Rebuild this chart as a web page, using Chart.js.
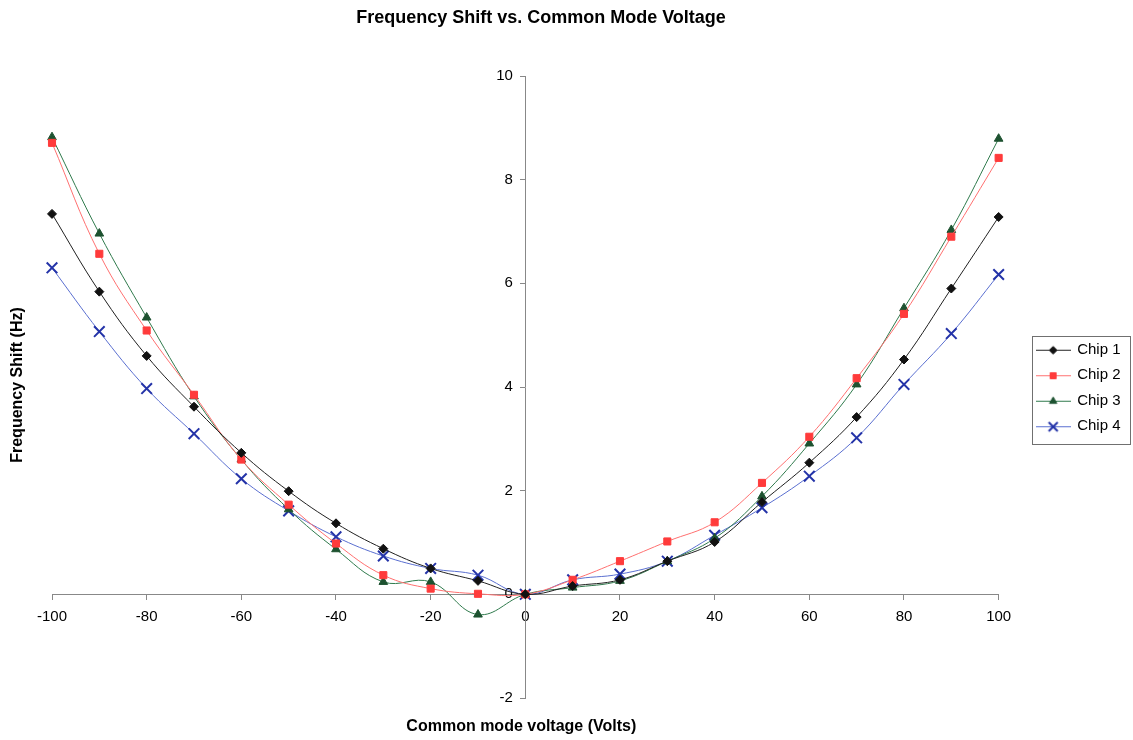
<!DOCTYPE html>
<html>
<head>
<meta charset="utf-8">
<title>Frequency Shift vs. Common Mode Voltage</title>
<script src="https://cdn.jsdelivr.net/npm/chart.js@4/dist/chart.umd.min.js"></script>
<style>
  html, body { margin: 0; padding: 0; background: #fff; }
  #wrap { width: 1133px; height: 740px; position: relative; }
</style>
</head>
<body>
<div id="wrap"><canvas id="chart"></canvas></div>
<script>
const voltage = [-100, -90, -80, -70, -60, -50, -40, -30, -20, -10, 0, 10, 20, 30, 40, 50, 60, 70, 80, 90, 100];
const chip1 = [7.34, 5.84, 4.60, 3.62, 2.73, 1.99, 1.37, 0.88, 0.50, 0.26, 0, 0.16, 0.28, 0.64, 1.01, 1.78, 2.54, 3.42, 4.53, 5.90, 7.28];
const chip2 = [8.71, 6.57, 5.09, 3.85, 2.60, 1.73, 0.98, 0.37, 0.11, 0.01, 0, 0.28, 0.64, 1.02, 1.39, 2.15, 3.04, 4.17, 5.41, 6.90, 8.42];
const chip3 = [8.82, 6.96, 5.34, 3.82, 2.60, 1.64, 0.87, 0.24, 0.24, -0.39, 0, 0.13, 0.26, 0.64, 1.08, 1.89, 2.91, 4.05, 5.52, 7.03, 8.79];
const chip4 = [6.30, 5.07, 3.97, 3.10, 2.23, 1.61, 1.11, 0.74, 0.50, 0.37, 0, 0.28, 0.39, 0.64, 1.14, 1.67, 2.28, 3.02, 4.05, 5.03, 6.17];

const seriesNames = ['Chip 1', 'Chip 2', 'Chip 3', 'Chip 4'];
const seriesValues = [chip1, chip2, chip3, chip4];

const styles = [
  { line: '#202020', marker: '#111111', pointStyle: 'rectRot', radius: 4.5, markerWidth: 1 },
  { line: '#ff7070', marker: '#ff3b3b', pointStyle: 'rect', radius: 5, markerWidth: 1 },
  { line: '#2f7a4c', marker: '#1d5230', pointStyle: 'triangle', radius: 5, markerWidth: 1 },
  { line: '#5a6fd0', marker: '#2433a8', pointStyle: 'crossRot', radius: 7.5, markerWidth: 2 }
];

const FONT = "'Liberation Sans', Arial, sans-serif";
Chart.defaults.font.family = FONT;
Chart.defaults.color = '#000';

// small line + marker swatch for the legend
function legendSwatch(s) {
  const c = document.createElement('canvas');
  c.width = 35; c.height = 14;
  const ctx = c.getContext('2d');
  ctx.strokeStyle = s.line;
  ctx.lineWidth = 1;
  ctx.beginPath(); ctx.moveTo(0, 7.5); ctx.lineTo(35, 7.5); ctx.stroke();
  ctx.fillStyle = s.marker; ctx.strokeStyle = s.marker;
  ctx.lineWidth = s.markerWidth;
  Chart.helpers.drawPoint(ctx, {
    pointStyle: s.pointStyle, radius: s.radius * 0.85, borderWidth: s.markerWidth, rotation: 0
  }, 17.5, 7.5);
  return c;
}

const swatches = styles.map(legendSwatch);

const datasets = seriesNames.map((name, i) => ({
  label: name,
  data: voltage.map((v, j) => ({ x: v, y: seriesValues[i][j] })),
  borderColor: styles[i].line,
  borderWidth: 1,
  backgroundColor: styles[i].marker,
  pointBackgroundColor: styles[i].marker,
  pointBorderColor: styles[i].marker,
  pointBorderWidth: styles[i].markerWidth,
  pointStyle: styles[i].pointStyle,
  pointRadius: styles[i].radius,
  pointHoverRadius: styles[i].radius,
  tension: 0.4,
  fill: false,
  clip: false
}));

const legendPad = 10.5;

const extras = {
  id: 'extras',
  afterLayout(chart) {
    // park the legend a little right of the plot, centred on it vertically
    const lg = chart.legend;
    const area = chart.chartArea;
    const dx = area.right + 27.5 - lg.left;
    const dy = (area.top + area.bottom) / 2 + 1 - (lg.top + lg.bottom) / 2;
    lg.left += dx; lg.right += dx;
    lg.top += dy; lg.bottom += dy;
  },
  afterDraw(chart) {
    const { ctx, chartArea } = chart;
    ctx.save();
    ctx.fillStyle = '#000';
    ctx.textAlign = 'center';
    ctx.textBaseline = 'middle';
    ctx.font = 'bold 18px ' + FONT;
    ctx.fillText('Frequency Shift vs. Common Mode Voltage', 541, 18);
    ctx.font = 'bold 16px ' + FONT;
    ctx.fillText('Common mode voltage (Volts)', (chartArea.left + chartArea.right) / 2 - 4, 727);
    ctx.translate(18, (chartArea.top + chartArea.bottom) / 2 - 2);
    ctx.rotate(-Math.PI / 2);
    ctx.fillText('Frequency Shift (Hz)', 0, 0);
    ctx.restore();

    // legend frame
    const boxes = chart.legend.legendHitBoxes;
    if (boxes && boxes.length) {
      const first = boxes[0], last = boxes[boxes.length - 1];
      ctx.save();
      ctx.strokeStyle = '#707070';
      ctx.lineWidth = 1;
      const x = Math.round(first.left - 5) + 0.5;
      const y = Math.round(first.top - 6) + 0.5;
      const h = Math.round(last.top + last.height + 10) - Math.round(first.top - 6);
      ctx.strokeRect(x, y, 98, h);
      ctx.restore();
    }
  }
};

new Chart(document.getElementById('chart'), {
  type: 'line',
  data: { datasets },
  plugins: [extras],
  options: {
    responsive: true,
    maintainAspectRatio: false,
    animation: false,
    layout: { padding: { left: 52, right: 30, top: 76, bottom: 42 } },
    scales: {
      x: {
        type: 'linear',
        min: -100,
        max: 100,
        position: { y: 0 },
        ticks: { stepSize: 20, font: { size: 15 }, color: '#000', padding: 9, maxRotation: 0 },
        grid: { drawOnChartArea: false, tickLength: 5, color: '#888' },
        border: { color: '#888', width: 1 }
      },
      y: {
        type: 'linear',
        min: -2,
        max: 10,
        position: { x: 0 },
        ticks: {
          stepSize: 2,
          font: { size: 15 },
          color: '#000',
          // labels sit right-aligned on the axis line, so pad them with spaces
          callback: v => v + '   '
        },
        grid: { drawOnChartArea: false, tickLength: 5, color: '#888' },
        border: { color: '#888', width: 1 }
      }
    },
    plugins: {
      title: { display: false },
      legend: {
        position: 'right',
        labels: {
          usePointStyle: true,
          pointStyleWidth: 33,
          padding: legendPad,
          font: { size: 15 },
          color: '#000',
          generateLabels: chart => chart.data.datasets.map((ds, i) => ({
            text: ds.label,
            datasetIndex: i,
            pointStyle: swatches[i],
            fillStyle: styles[i].marker,
            strokeStyle: styles[i].marker,
            lineWidth: 0,
            hidden: false,
            fontColor: '#000'
          }))
        }
      },
      tooltip: { enabled: false }
    }
  }
});
</script>
</body>
</html>
